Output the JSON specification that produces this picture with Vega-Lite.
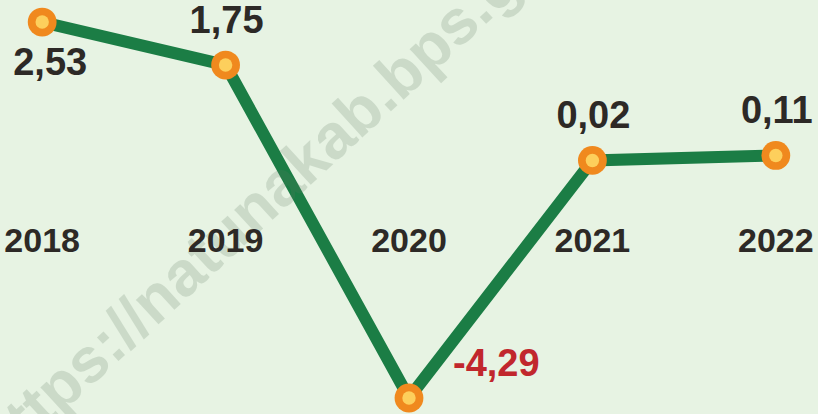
{
  "$schema": "https://vega.github.io/schema/vega-lite/v6.json",
  "width": 818,
  "height": 414,
  "autosize": {"type": "none"},
  "padding": 0,
  "background": "#e7f3e3",
  "config": {"view": {"stroke": null}},
  "datasets": {
    "growth": [
      {"year": "2018", "value": 2.53, "label": "2,53"},
      {"year": "2019", "value": 1.75, "label": "1,75"},
      {"year": "2020", "value": -4.29, "label": "-4,29"},
      {"year": "2021", "value": 0.02, "label": "0,02"},
      {"year": "2022", "value": 0.11, "label": "0,11"}
    ],
    "wm": [{"t": "https://natunakab.bps.go.id"}]
  },
  "resolve": {"scale": {"x": "shared", "y": "shared"}},
  "layer": [
    {
      "data": {"name": "growth"},
      "encoding": {
        "x": {"field": "year", "type": "ordinal", "scale": {"type": "point", "padding": 0.23, "domain": ["2018", "2019", "2020", "2021", "2022"]}, "axis": null},
        "y": {"field": "value", "type": "quantitative", "scale": {"domain": [-4.58, 2.93], "nice": false, "zero": false}, "axis": null}
      },
      "layer": [
        {"mark": {"type": "line", "color": "#1b7d45", "strokeWidth": 12, "strokeJoin": "miter"}},
        {"mark": {"type": "point", "shape": "circle", "filled": true, "color": "#f0891e", "opacity": 1, "size": 830}},
        {"mark": {"type": "point", "shape": "circle", "filled": true, "color": "#fdcf5c", "opacity": 1, "size": 180}}
      ]
    },
    {
      "data": {"name": "wm"},
      "mark": {"type": "text", "angle": -42.5, "align": "center", "baseline": "alphabetic", "font": "Liberation Sans", "fontWeight": "bold", "fontSize": 63, "fill": "#5f7a62", "opacity": 0.2, "dx": 106, "clip": true},
      "encoding": {
        "x": {"datum": "2019", "type": "ordinal", "axis": null},
        "y": {"datum": -1.837, "type": "quantitative", "axis": null},
        "text": {"field": "t"}
      }
    },
    {
      "data": {"name": "growth"},
      "encoding": {
        "x": {"field": "year", "type": "ordinal", "axis": null},
        "y": {"field": "value", "type": "quantitative", "axis": null}
      },
      "layer": [
        {
          "mark": {"type": "text", "font": "Liberation Sans", "fontWeight": "bold", "fontSize": 34, "fill": "#2d2926", "baseline": "middle"},
          "encoding": {"y": {"datum": -1.46}, "text": {"field": "year"}}
        },
        {
          "transform": [{"filter": "datum.year == '2018'"}],
          "mark": {"type": "text", "font": "Liberation Sans", "fontWeight": "bold", "fontSize": 38, "fill": "#2d2926", "baseline": "middle", "dx": 8, "dy": 42},
          "encoding": {"text": {"field": "label"}}
        },
        {
          "transform": [{"filter": "datum.year == '2019' || datum.year == '2021' || datum.year == '2022'"}],
          "mark": {"type": "text", "font": "Liberation Sans", "fontWeight": "bold", "fontSize": 38, "fill": "#2d2926", "baseline": "middle", "dx": 1, "dy": -43},
          "encoding": {"text": {"field": "label"}}
        },
        {
          "transform": [{"filter": "datum.year == '2020'"}],
          "mark": {"type": "text", "font": "Liberation Sans", "fontWeight": "bold", "fontSize": 38, "fill": "#c1272d", "baseline": "middle", "align": "left", "dx": 44, "dy": -33},
          "encoding": {"text": {"field": "label"}}
        }
      ]
    }
  ]
}
